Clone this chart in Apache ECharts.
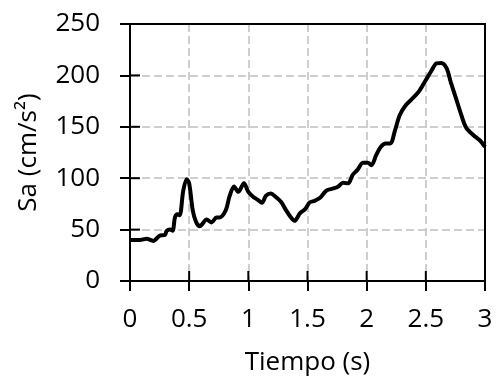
<!DOCTYPE html>
<html>
<head>
<meta charset="utf-8">
<script src="https://cdn.jsdelivr.net/npm/echarts@6/dist/echarts.min.js"></script>
<style>
  html, body { margin: 0; padding: 0; background: #fff; }
  #main { width: 500px; height: 388px; }
</style>
</head>
<body>
<div id="main"></div>
<script>
// periodo (s) y aceleracion espectral (cm/s2)
var tiempo = [0, 0.085, 0.14, 0.197, 0.25, 0.296, 0.31, 0.338, 0.36, 0.38, 0.40, 0.42, 0.45, 0.479, 0.5,
  0.53, 0.558, 0.59, 0.648, 0.69, 0.73, 0.755, 0.81, 0.84, 0.879, 0.915, 0.963, 1.0, 1.04, 1.08, 1.115,
  1.15, 1.19, 1.23, 1.276, 1.318, 1.357, 1.39, 1.437, 1.48, 1.52, 1.56, 1.606, 1.66, 1.72, 1.76, 1.80,
  1.845, 1.88, 1.92, 1.97, 2.01, 2.04, 2.08, 2.12, 2.16, 2.20, 2.24, 2.28, 2.33, 2.40, 2.445, 2.50,
  2.55, 2.59, 2.63, 2.675, 2.71, 2.755, 2.80, 2.84, 2.90, 2.96, 3.0];
var sa = [40, 40, 41, 39, 44, 45, 48.7, 50, 49, 62, 65, 64, 88, 99, 95,
  69, 57.5, 53.3, 59.8, 57, 61.7, 61.7, 69, 82, 92, 86.7, 95, 86.7, 82, 79, 76,
  83, 85, 82, 77, 69, 62.3, 58.5, 66, 70, 76.5, 78, 81, 88, 90, 92, 95.5,
  95, 103, 107.8, 115, 115, 112.7, 122.4, 130.5, 133.8, 133.8, 146.8, 161.4, 171, 179, 185, 195.5,
  205, 211.7, 212, 207, 193.8, 177.7, 161.4, 149.4, 142, 136.4, 130.5];

var xTicks = { min: 0, max: 3, interval: 0.5 };
var yTicks = { min: 0, max: 250, interval: 50 };

var puntos = [];
for (var i = 0; i < tiempo.length; i++) {
    puntos.push([tiempo[i], sa[i]]);
}

var fuente = 'Open Sans';
var gridLine = {
    show: true, showMinLine: false, showMaxLine: false,
    lineStyle: { color: '#bfbfbf', width: 1.5, type: [8, 4] }
};
var negro = { color: '#000', width: 2 };

var myChart = echarts.init(document.getElementById('main'));
myChart.setOption({
    animation: false,
    grid: { left: 130, right: 15, top: 24, bottom: 107 },
    xAxis: {
        type: 'value', min: xTicks.min, max: xTicks.max, interval: xTicks.interval,
        name: 'Tiempo (s)', nameLocation: 'middle', nameGap: 69,
        nameTextStyle: { fontFamily: fuente, fontSize: 26, color: '#000' },
        axisLine: { show: true, onZero: false, lineStyle: negro },
        axisTick: { show: true, length: 10, lineStyle: negro },
        axisLabel: { fontFamily: fuente, fontSize: 26, color: '#000', margin: 26 },
        splitLine: gridLine
    },
    yAxis: {
        type: 'value', min: yTicks.min, max: yTicks.max, interval: yTicks.interval,
        name: 'Sa (cm/s²)', nameLocation: 'middle', nameGap: 88,
        nameTextStyle: { fontFamily: fuente, fontSize: 26, color: '#000' },
        axisLine: { show: true, onZero: false, lineStyle: negro },
        axisTick: { show: true, length: 10, lineStyle: negro },
        axisLabel: { fontFamily: fuente, fontSize: 26, color: '#000', margin: 30 },
        splitLine: gridLine
    },
    series: [
        {
            type: 'line',
            data: puntos,
            smooth: 0.3,
            showSymbol: false,
            lineStyle: { color: '#000', width: 4 }
        }
    ]
});

// marco superior/derecho y mitad interior de las marcas, situados con las escalas del grafico
function px(x, y) { return myChart.convertToPixel({ gridIndex: 0 }, [x, y]); }
var esq0 = px(xTicks.min, yTicks.min);
var esq1 = px(xTicks.max, yTicks.max);
var extras = [];
extras.push({ type: 'polyline', silent: true, z: 100,
    shape: { points: [[esq0[0], esq1[1]], [esq1[0], esq1[1]], [esq1[0], esq0[1]]] },
    style: { stroke: '#000', lineWidth: 2, fill: null } });
for (var v = xTicks.min; v <= xTicks.max + 1e-9; v += xTicks.interval) {
    var p = px(v, yTicks.min);
    extras.push({ type: 'line', silent: true, z: 100,
        shape: { x1: p[0], y1: p[1], x2: p[0], y2: p[1] - 10 },
        style: { stroke: '#000', lineWidth: 2 } });
}
for (var w = yTicks.min; w <= yTicks.max + 1e-9; w += yTicks.interval) {
    var q = px(xTicks.min, w);
    extras.push({ type: 'line', silent: true, z: 100,
        shape: { x1: q[0], y1: q[1], x2: q[0] + 10, y2: q[1] },
        style: { stroke: '#000', lineWidth: 2 } });
}
myChart.setOption({ graphic: { elements: extras } });
</script>
</body>
</html>
